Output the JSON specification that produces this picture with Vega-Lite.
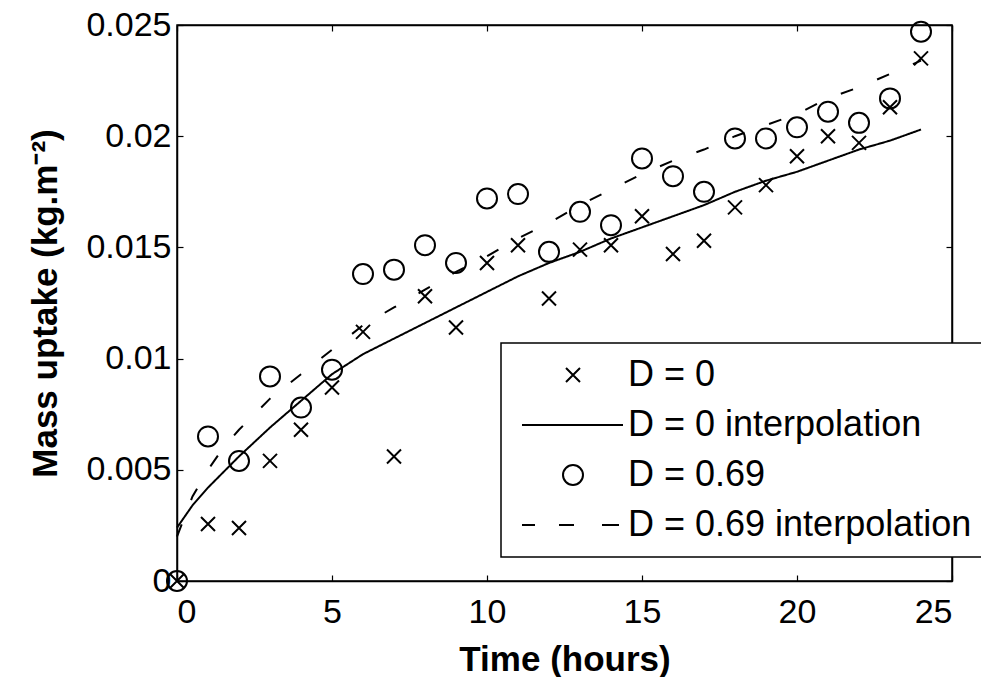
{
  "$schema": "https://vega.github.io/schema/vega-lite/v6.json",
  "autosize": {"type": "none"},
  "padding": {"left": 177, "top": 25, "right": 29, "bottom": 96},
  "width": 775,
  "height": 556,
  "background": "white",
  "config": {
    "font": "Liberation Sans",
    "view": {"stroke": "black", "strokeWidth": 1.5},
    "axis": {
      "grid": false,
      "domainColor": "black",
      "domainWidth": 1.5,
      "tickColor": "black",
      "tickWidth": 1.2,
      "tickSize": -6,
      "labelColor": "black",
      "titleColor": "black",
      "labelFontSize": 34,
      "titleFontSize": 35,
      "titleFontWeight": "bold",
      "labelFont": "Liberation Sans",
      "titleFont": "Liberation Sans"
    },
    "legend": {"strokeWidth": 1.5}
  },
  "datasets": {
    "points": [
      {"t": 0, "mass": 0, "series": "D = 0"},
      {"t": 1, "mass": 0.00256, "series": "D = 0"},
      {"t": 2, "mass": 0.00238, "series": "D = 0"},
      {"t": 3, "mass": 0.0054, "series": "D = 0"},
      {"t": 4, "mass": 0.0068, "series": "D = 0"},
      {"t": 5, "mass": 0.0087, "series": "D = 0"},
      {"t": 6, "mass": 0.0112, "series": "D = 0"},
      {"t": 7, "mass": 0.0056, "series": "D = 0"},
      {"t": 8, "mass": 0.0128, "series": "D = 0"},
      {"t": 9, "mass": 0.0114, "series": "D = 0"},
      {"t": 10, "mass": 0.0143, "series": "D = 0"},
      {"t": 11, "mass": 0.0151, "series": "D = 0"},
      {"t": 12, "mass": 0.0127, "series": "D = 0"},
      {"t": 13, "mass": 0.0149, "series": "D = 0"},
      {"t": 14, "mass": 0.0151, "series": "D = 0"},
      {"t": 15, "mass": 0.0164, "series": "D = 0"},
      {"t": 16, "mass": 0.0147, "series": "D = 0"},
      {"t": 17, "mass": 0.0153, "series": "D = 0"},
      {"t": 18, "mass": 0.0168, "series": "D = 0"},
      {"t": 19, "mass": 0.0178, "series": "D = 0"},
      {"t": 20, "mass": 0.0191, "series": "D = 0"},
      {"t": 21, "mass": 0.0200, "series": "D = 0"},
      {"t": 22, "mass": 0.0197, "series": "D = 0"},
      {"t": 23, "mass": 0.0213, "series": "D = 0"},
      {"t": 24, "mass": 0.0235, "series": "D = 0"},
      {"t": 0, "mass": 0, "series": "D = 0.69"},
      {"t": 1, "mass": 0.0065, "series": "D = 0.69"},
      {"t": 2, "mass": 0.0054, "series": "D = 0.69"},
      {"t": 3, "mass": 0.0092, "series": "D = 0.69"},
      {"t": 4, "mass": 0.0078, "series": "D = 0.69"},
      {"t": 5, "mass": 0.0095, "series": "D = 0.69"},
      {"t": 6, "mass": 0.0138, "series": "D = 0.69"},
      {"t": 7, "mass": 0.0140, "series": "D = 0.69"},
      {"t": 8, "mass": 0.0151, "series": "D = 0.69"},
      {"t": 9, "mass": 0.0143, "series": "D = 0.69"},
      {"t": 10, "mass": 0.0172, "series": "D = 0.69"},
      {"t": 11, "mass": 0.0174, "series": "D = 0.69"},
      {"t": 12, "mass": 0.0148, "series": "D = 0.69"},
      {"t": 13, "mass": 0.0166, "series": "D = 0.69"},
      {"t": 14, "mass": 0.0160, "series": "D = 0.69"},
      {"t": 15, "mass": 0.0190, "series": "D = 0.69"},
      {"t": 16, "mass": 0.0182, "series": "D = 0.69"},
      {"t": 17, "mass": 0.0175, "series": "D = 0.69"},
      {"t": 18, "mass": 0.0199, "series": "D = 0.69"},
      {"t": 19, "mass": 0.0199, "series": "D = 0.69"},
      {"t": 20, "mass": 0.0204, "series": "D = 0.69"},
      {"t": 21, "mass": 0.0211, "series": "D = 0.69"},
      {"t": 22, "mass": 0.0206, "series": "D = 0.69"},
      {"t": 23, "mass": 0.0217, "series": "D = 0.69"},
      {"t": 24, "mass": 0.0247, "series": "D = 0.69"}
    ],
    "fits": [
      {"t": 0, "mass": 0.0024, "series": "D = 0 interpolation"},
      {"t": 0.25, "mass": 0.0029, "series": "D = 0 interpolation"},
      {"t": 0.5, "mass": 0.0034, "series": "D = 0 interpolation"},
      {"t": 1, "mass": 0.0042, "series": "D = 0 interpolation"},
      {"t": 1.5, "mass": 0.0049, "series": "D = 0 interpolation"},
      {"t": 2, "mass": 0.0056, "series": "D = 0 interpolation"},
      {"t": 3, "mass": 0.0069, "series": "D = 0 interpolation"},
      {"t": 4, "mass": 0.0081, "series": "D = 0 interpolation"},
      {"t": 5, "mass": 0.0093, "series": "D = 0 interpolation"},
      {"t": 6, "mass": 0.0102, "series": "D = 0 interpolation"},
      {"t": 7, "mass": 0.0109, "series": "D = 0 interpolation"},
      {"t": 8, "mass": 0.0116, "series": "D = 0 interpolation"},
      {"t": 9, "mass": 0.0123, "series": "D = 0 interpolation"},
      {"t": 10, "mass": 0.0130, "series": "D = 0 interpolation"},
      {"t": 11, "mass": 0.0137, "series": "D = 0 interpolation"},
      {"t": 12, "mass": 0.0143, "series": "D = 0 interpolation"},
      {"t": 13, "mass": 0.0148, "series": "D = 0 interpolation"},
      {"t": 14, "mass": 0.0154, "series": "D = 0 interpolation"},
      {"t": 15, "mass": 0.0159, "series": "D = 0 interpolation"},
      {"t": 16, "mass": 0.0164, "series": "D = 0 interpolation"},
      {"t": 17, "mass": 0.0169, "series": "D = 0 interpolation"},
      {"t": 18, "mass": 0.0175, "series": "D = 0 interpolation"},
      {"t": 19, "mass": 0.0180, "series": "D = 0 interpolation"},
      {"t": 20, "mass": 0.0184, "series": "D = 0 interpolation"},
      {"t": 21, "mass": 0.0189, "series": "D = 0 interpolation"},
      {"t": 22, "mass": 0.0194, "series": "D = 0 interpolation"},
      {"t": 23, "mass": 0.0198, "series": "D = 0 interpolation"},
      {"t": 24, "mass": 0.0203, "series": "D = 0 interpolation"},
      {"t": 0, "mass": 0.0020, "series": "D = 0.69 interpolation"},
      {"t": 0.5, "mass": 0.0038, "series": "D = 0.69 interpolation"},
      {"t": 1, "mass": 0.0050, "series": "D = 0.69 interpolation"},
      {"t": 1.5, "mass": 0.0060, "series": "D = 0.69 interpolation"},
      {"t": 2, "mass": 0.0068, "series": "D = 0.69 interpolation"},
      {"t": 3, "mass": 0.0082, "series": "D = 0.69 interpolation"},
      {"t": 4, "mass": 0.0093, "series": "D = 0.69 interpolation"},
      {"t": 5, "mass": 0.0104, "series": "D = 0.69 interpolation"},
      {"t": 6, "mass": 0.0115, "series": "D = 0.69 interpolation"},
      {"t": 7, "mass": 0.0123, "series": "D = 0.69 interpolation"},
      {"t": 8, "mass": 0.0131, "series": "D = 0.69 interpolation"},
      {"t": 9, "mass": 0.0139, "series": "D = 0.69 interpolation"},
      {"t": 10, "mass": 0.0146, "series": "D = 0.69 interpolation"},
      {"t": 11, "mass": 0.0154, "series": "D = 0.69 interpolation"},
      {"t": 12, "mass": 0.0161, "series": "D = 0.69 interpolation"},
      {"t": 13, "mass": 0.0169, "series": "D = 0.69 interpolation"},
      {"t": 14, "mass": 0.0176, "series": "D = 0.69 interpolation"},
      {"t": 15, "mass": 0.0183, "series": "D = 0.69 interpolation"},
      {"t": 16, "mass": 0.0189, "series": "D = 0.69 interpolation"},
      {"t": 17, "mass": 0.0194, "series": "D = 0.69 interpolation"},
      {"t": 18, "mass": 0.0200, "series": "D = 0.69 interpolation"},
      {"t": 19, "mass": 0.0205, "series": "D = 0.69 interpolation"},
      {"t": 20, "mass": 0.0210, "series": "D = 0.69 interpolation"},
      {"t": 21, "mass": 0.0217, "series": "D = 0.69 interpolation"},
      {"t": 22, "mass": 0.0222, "series": "D = 0.69 interpolation"},
      {"t": 23, "mass": 0.0228, "series": "D = 0.69 interpolation"},
      {"t": 24, "mass": 0.0234, "series": "D = 0.69 interpolation"}
    ]
  },
  "layer": [
    {
      "data": {"name": "fits"},
      "mark": {"type": "line", "color": "black", "strokeWidth": 2},
      "encoding": {
        "x": {"field": "t", "type": "quantitative", "scale": {"domain": [0, 25], "nice": false},
              "axis": {"orient": "top", "labels": false, "title": null, "values": [0, 5, 10, 15, 20, 25]}},
        "y": {"field": "mass", "type": "quantitative", "scale": {"domain": [0, 0.025], "nice": false},
              "axis": {"orient": "right", "labels": false, "title": null, "values": [0, 0.005, 0.01, 0.015, 0.02, 0.025]}},
        "strokeDash": {"field": "series", "type": "nominal",
                       "scale": {"domain": ["D = 0 interpolation", "D = 0.69 interpolation"], "range": [[1, 0], [13, 26]]},
                       "legend": null}
      }
    },
    {
      "data": {"name": "points"},
      "mark": {"type": "point", "filled": false, "color": "black", "strokeWidth": 2, "size": 400, "opacity": 1},
      "encoding": {
        "x": {"field": "t", "type": "quantitative", "scale": {"domain": [0, 25], "nice": false},
              "axis": {"orient": "bottom", "title": "Time (hours)", "values": [0, 5, 10, 15, 20, 25], "labelPadding": 20, "titlePadding": 13}},
        "y": {"field": "mass", "type": "quantitative", "scale": {"domain": [0, 0.025], "nice": false},
              "axis": {"orient": "left", "title": "Mass uptake (kg.m⁻²)", "format": ".3~f", "values": [0, 0.005, 0.01, 0.015, 0.02, 0.025], "labelPadding": 12, "titlePadding": 22}},
        "shape": {"field": "series", "type": "nominal",
                  "scale": {"domain": ["D = 0", "D = 0 interpolation", "D = 0.69", "D = 0.69 interpolation"],
                            "range": ["M-0.7,-0.7L0.7,0.7M-0.7,0.7L0.7,-0.7", "M-5.1,0L5,0", "circle", "M-5.1,0L-3.8,0M-1.4,0L0.1,0M2.9,0L4.6,0"]},
                  "legend": {"orient": "none", "legendX": 324, "legendY": 318, "title": null,
                             "strokeColor": "black", "fillColor": "white", "padding": 14,
                             "symbolSize": 400, "symbolStrokeColor": "black", "symbolStrokeWidth": 2, "symbolFillColor": "transparent",
                             "symbolOffset": 40, "labelOffset": 37, "rowPadding": 14,
                             "labelFont": "Liberation Sans", "labelFontSize": 36, "labelColor": "black", "labelLimit": 1000}}
      }
    }
  ],
  "resolve": {"axis": {"x": "independent", "y": "independent"}}
}
